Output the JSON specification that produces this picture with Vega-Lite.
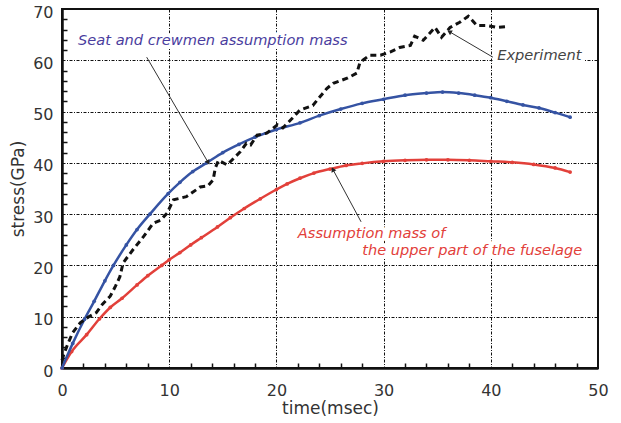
{
  "$schema": "https://vega.github.io/schema/vega-lite/v6.json",
  "width": 536,
  "height": 359,
  "autosize": {"type": "none"},
  "padding": {"left": 62, "top": 9, "right": 23, "bottom": 55},
  "background": "white",
  "config": {
    "view": {"stroke": "#111", "strokeWidth": 2},
    "font": "DejaVu Sans"
  },
  "datasets": {
    "blue": [
      {"t": 0, "s": 0}, {"t": 1, "s": 4.8}, {"t": 2.1, "s": 9.5}, {"t": 3, "s": 13}, {"t": 4, "s": 17},
      {"t": 4.8, "s": 20}, {"t": 6, "s": 24}, {"t": 7, "s": 27}, {"t": 8.2, "s": 30}, {"t": 9.9, "s": 34},
      {"t": 11, "s": 36.2}, {"t": 12.2, "s": 38.3}, {"t": 13.5, "s": 40}, {"t": 15, "s": 42}, {"t": 16.5, "s": 43.6},
      {"t": 18, "s": 45}, {"t": 20, "s": 46.5}, {"t": 22.2, "s": 47.8}, {"t": 24, "s": 49.2}, {"t": 26, "s": 50.5},
      {"t": 28, "s": 51.6}, {"t": 30, "s": 52.4}, {"t": 32, "s": 53.2}, {"t": 34, "s": 53.6}, {"t": 35.5, "s": 53.8},
      {"t": 37, "s": 53.6}, {"t": 38.5, "s": 53.2}, {"t": 40, "s": 52.7}, {"t": 41.5, "s": 52}, {"t": 43, "s": 51.3},
      {"t": 44.5, "s": 50.7}, {"t": 46, "s": 49.8}, {"t": 47.4, "s": 48.9}
    ],
    "red": [
      {"t": 0, "s": 0}, {"t": 0.9, "s": 3.2}, {"t": 2.3, "s": 6.5}, {"t": 3.5, "s": 9.6}, {"t": 4.5, "s": 11.8},
      {"t": 5.6, "s": 13.6}, {"t": 7, "s": 16.2}, {"t": 8, "s": 18}, {"t": 9.3, "s": 20}, {"t": 10, "s": 21.1},
      {"t": 11, "s": 22.5}, {"t": 12, "s": 24}, {"t": 13, "s": 25.4}, {"t": 14.5, "s": 27.5}, {"t": 15.7, "s": 29.3},
      {"t": 17, "s": 31.1}, {"t": 18.5, "s": 33}, {"t": 20, "s": 34.8}, {"t": 21, "s": 35.9}, {"t": 22.2, "s": 37},
      {"t": 23.5, "s": 38}, {"t": 25, "s": 38.8}, {"t": 26.5, "s": 39.5}, {"t": 28, "s": 39.9}, {"t": 30, "s": 40.3},
      {"t": 32, "s": 40.5}, {"t": 34, "s": 40.6}, {"t": 36, "s": 40.6}, {"t": 38, "s": 40.5}, {"t": 40, "s": 40.3},
      {"t": 42, "s": 40.1}, {"t": 44, "s": 39.7}, {"t": 46, "s": 39}, {"t": 47.4, "s": 38.2}
    ],
    "experiment": [
      {"t": 0, "s": 1.5}, {"t": 0.1, "s": 2.2}, {"t": 0.5, "s": 4.5}, {"t": 1, "s": 6.9}, {"t": 1.7, "s": 8.8},
      {"t": 2.5, "s": 10}, {"t": 3.2, "s": 10.8}, {"t": 3.8, "s": 12.5}, {"t": 4.5, "s": 14}, {"t": 5, "s": 16},
      {"t": 5.4, "s": 17.8}, {"t": 5.7, "s": 20.5}, {"t": 6.6, "s": 23}, {"t": 7.6, "s": 25.6}, {"t": 8.5, "s": 28.2},
      {"t": 9.2, "s": 28.8}, {"t": 9.8, "s": 30.2}, {"t": 10.4, "s": 32.8}, {"t": 11.6, "s": 33.4}, {"t": 12.9, "s": 35.3},
      {"t": 13.6, "s": 35.5}, {"t": 14.1, "s": 36.7}, {"t": 14.3, "s": 39}, {"t": 14.6, "s": 40.5}, {"t": 15.4, "s": 39.6},
      {"t": 16.6, "s": 42.1}, {"t": 17.2, "s": 43.8}, {"t": 17.6, "s": 43.5}, {"t": 18.2, "s": 45.4}, {"t": 19.1, "s": 45.8},
      {"t": 20.1, "s": 47.4}, {"t": 20.6, "s": 46.8}, {"t": 21.3, "s": 48.3}, {"t": 22.2, "s": 50.3}, {"t": 23.4, "s": 51.2},
      {"t": 24.7, "s": 54.5}, {"t": 25.3, "s": 55.5}, {"t": 26.6, "s": 56.5}, {"t": 27.5, "s": 57.5}, {"t": 27.8, "s": 59.6},
      {"t": 28.7, "s": 61}, {"t": 29.7, "s": 61}, {"t": 30.6, "s": 61.6}, {"t": 31.5, "s": 62.5}, {"t": 32.5, "s": 62.9},
      {"t": 32.9, "s": 64.7}, {"t": 33.7, "s": 63.9}, {"t": 34.8, "s": 66.4}, {"t": 35.4, "s": 64.5}, {"t": 36.2, "s": 66.4},
      {"t": 37.1, "s": 67.4}, {"t": 37.9, "s": 68.6}, {"t": 38.7, "s": 66.8}, {"t": 39.6, "s": 66.8}, {"t": 40.6, "s": 66.4},
      {"t": 41.6, "s": 66.6}
    ],
    "labels": [
      {"name": "seat", "label": "Seat and crewmen assumption mass", "t": 1.5, "s": 63.8},
      {"name": "exp", "label": "Experiment", "t": 40.6, "s": 60.9},
      {"name": "red1", "label": "Assumption mass of", "t": 22.0, "s": 26.2},
      {"name": "red2", "label": "the upper part of the fuselage", "t": 28.0, "s": 22.9}
    ],
    "arrows": [
      {"name": "seat", "t": 7.9, "s": 60.6, "t2": 13.6, "s2": 40.2},
      {"name": "exp", "t": 40.2, "s": 60.6, "t2": 36.2, "s2": 65.5},
      {"name": "red", "t": 27.9, "s": 28.5, "t2": 25.3, "s2": 38.6}
    ]
  },
  "resolve": {"axis": {"x": "independent", "y": "independent"}},
  "layer": [
    {
      "encoding": {
        "x": {"field": "t", "type": "quantitative", "scale": {"domain": [0, 50], "nice": false},
          "axis": {"values": [0, 10, 20, 30, 40, 50],
            "title": "time(msec)", "labelPadding": 14, "titlePadding": 2, "labelFlush": false,
            "domainColor": "#111", "domainWidth": 2.5,
            "grid": true, "gridColor": "#111", "gridDash": [3, 1.5, 1, 1.5], "gridWidth": 1, "gridOpacity": 1,
            "ticks": false,
            "labelFont": "DejaVu Sans", "labelFontSize": 16, "labelColor": "#333",
            "titleFont": "DejaVu Sans", "titleFontSize": 17, "titleFontWeight": "normal", "titleColor": "#333"}},
        "y": {"field": "s", "type": "quantitative", "scale": {"domain": [0, 70], "nice": false},
          "axis": {"values": [0, 10, 20, 30, 40, 50, 60, 70],
            "title": "stress(GPa)", "labelPadding": 9, "titlePadding": 5, "labelOffset": 3, "labelFlush": false,
            "domainColor": "#111", "domainWidth": 2.5,
            "grid": true, "gridColor": "#111", "gridDash": [3, 1.5, 1, 1.5], "gridWidth": 1, "gridOpacity": 1,
            "ticks": false,
            "labelFont": "DejaVu Sans", "labelFontSize": 16, "labelColor": "#333",
            "titleFont": "DejaVu Sans", "titleFontSize": 17, "titleFontWeight": "normal", "titleColor": "#333"}}
      },
      "layer": [
        {"data": {"name": "labels"}, "mark": {"type": "text", "align": "left", "baseline": "middle", "fontStyle": "italic", "fontSize": 14.6, "font": "DejaVu Sans", "stroke": "white", "strokeWidth": 8, "strokeJoin": "round", "fill": "white"},
          "encoding": {"text": {"field": "label"}}},
        {"data": {"name": "red"}, "mark": {"type": "line", "color": "#e2403a", "strokeWidth": 2.5, "interpolate": "monotone"}},
        {"data": {"name": "red"}, "mark": {"type": "point", "filled": true, "color": "#e2403a", "size": 14, "opacity": 1}},
        {"data": {"name": "blue"}, "mark": {"type": "line", "color": "#3553a3", "strokeWidth": 2.5, "interpolate": "monotone"}},
        {"data": {"name": "blue"}, "mark": {"type": "point", "filled": true, "color": "#3553a3", "size": 14, "opacity": 1}},
        {"data": {"name": "experiment"}, "mark": {"type": "line", "color": "#111", "strokeWidth": 3, "strokeDash": [6, 4]}},
        {"data": {"name": "arrows"}, "mark": {"type": "rule", "color": "#333", "strokeWidth": 1},
          "encoding": {"x2": {"field": "t2"}, "y2": {"field": "s2"}}},
        {"data": {"name": "arrows"}, "transform": [{"filter": "datum.name === 'seat'"}],
          "mark": {"type": "point", "shape": "triangle", "filled": true, "color": "#222", "size": 30, "angle": 150, "opacity": 1},
          "encoding": {"x": {"field": "t2", "type": "quantitative"}, "y": {"field": "s2", "type": "quantitative"}}},
        {"data": {"name": "arrows"}, "transform": [{"filter": "datum.name === 'exp'"}],
          "mark": {"type": "point", "shape": "triangle", "filled": true, "color": "#222", "size": 30, "angle": 300, "opacity": 1},
          "encoding": {"x": {"field": "t2", "type": "quantitative"}, "y": {"field": "s2", "type": "quantitative"}}},
        {"data": {"name": "arrows"}, "transform": [{"filter": "datum.name === 'red'"}],
          "mark": {"type": "point", "shape": "triangle", "filled": true, "color": "#222", "size": 30, "angle": 332, "opacity": 1},
          "encoding": {"x": {"field": "t2", "type": "quantitative"}, "y": {"field": "s2", "type": "quantitative"}}},
        {"data": {"name": "labels"}, "mark": {"type": "text", "align": "left", "baseline": "middle", "fontStyle": "italic", "fontSize": 14.6, "font": "DejaVu Sans"},
          "encoding": {"text": {"field": "label"},
            "color": {"field": "name", "type": "nominal", "legend": null,
              "scale": {"domain": ["seat", "exp", "red1", "red2"], "range": ["#4a3d9e", "#444444", "#e2403a", "#e2403a"]}}}}
      ]
    },
    {
      "data": {"name": "blue"},
      "mark": {"type": "point", "opacity": 0},
      "encoding": {
        "x": {"field": "t", "type": "quantitative", "scale": {"domain": [0, 50], "nice": false},
          "axis": {"orient": "top", "offset": -359, "values": [2,4,6,8,12,14,16,18,22,24,26,28,32,34,36,38,42,44,46,48],
            "domain": false, "labels": false, "grid": false, "title": null,
            "ticks": true, "tickColor": "#111", "tickWidth": 1.5, "tickSize": 5}},
        "y": {"field": "s", "type": "quantitative", "scale": {"domain": [0, 70], "nice": false},
          "axis": {"orient": "right", "offset": -536, "values": [2,4,6,8,12,14,16,18,22,24,26,28,32,34,36,38,42,44,46,48,52,54,56,58,62,64,66,68],
            "domain": false, "labels": false, "grid": false, "title": null,
            "ticks": true, "tickColor": "#111", "tickWidth": 1.5, "tickSize": 5}}
      }
    }
  ]
}
